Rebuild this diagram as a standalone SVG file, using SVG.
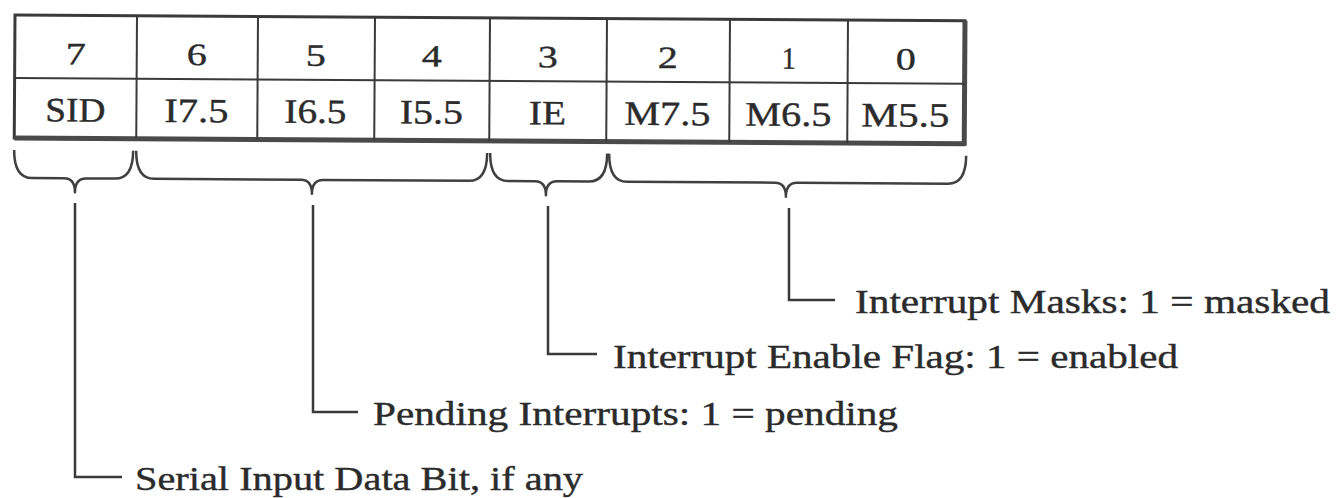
<svg xmlns="http://www.w3.org/2000/svg" width="1340" height="498" viewBox="0 0 1340 498">
<style>
.cellline{stroke:#3a3a3a;stroke-width:2;fill:none}
.outer{stroke:#3a3a3a;stroke-width:3;fill:none}
.heavy{stroke:#4a4a4a;stroke-width:5;fill:none}
.brace{stroke:#404040;stroke-width:2.5;fill:none;stroke-linejoin:round}
.lead{stroke:#3a3a3a;stroke-width:2.5;fill:none}
text{fill:#2b2b2b;stroke:#2b2b2b;stroke-width:0.4}
.num{font-family:"Liberation Serif","Times New Roman",serif;font-size:31px;text-anchor:middle}
.cell{font-family:"Liberation Serif","Times New Roman",serif;font-size:34px;text-anchor:middle}
.lbl{font-family:"Liberation Serif","Times New Roman",serif;font-size:34px}
</style>
<rect width="1340" height="498" fill="#ffffff"/>
<g id="register" transform="rotate(0.35 15 15)">
  <rect class="outer" x="15" y="15" width="950" height="123"/>
  <line class="heavy" x1="15" y1="138" x2="966" y2="138"/>
  <line class="heavy" x1="965" y1="15" x2="965" y2="140"/>
  <line class="cellline" x1="15" y1="78" x2="965" y2="78"/>
  <line class="cellline" x1="137" y1="15" x2="137" y2="138"/>
  <line class="cellline" x1="258" y1="15" x2="258" y2="138"/>
  <line class="cellline" x1="375" y1="15" x2="375" y2="138"/>
  <line class="cellline" x1="490" y1="15" x2="490" y2="138"/>
  <line class="cellline" x1="607" y1="15" x2="607" y2="138"/>
  <line class="cellline" x1="730" y1="15" x2="730" y2="138"/>
  <line class="cellline" x1="848" y1="15" x2="848" y2="138"/>
  <g id="bit-numbers">
    <text class="num" x="76" y="64" textLength="20" lengthAdjust="spacingAndGlyphs">7</text>
    <text class="num" x="197" y="64" textLength="20" lengthAdjust="spacingAndGlyphs">6</text>
    <text class="num" x="316" y="64" textLength="20" lengthAdjust="spacingAndGlyphs">5</text>
    <text class="num" x="432" y="64" textLength="20" lengthAdjust="spacingAndGlyphs">4</text>
    <text class="num" x="548" y="64" textLength="20" lengthAdjust="spacingAndGlyphs">3</text>
    <text class="num" x="668" y="64" textLength="20" lengthAdjust="spacingAndGlyphs">2</text>
    <text class="num" x="789" y="64" textLength="14" lengthAdjust="spacingAndGlyphs">1</text>
    <text class="num" x="906" y="64" textLength="20" lengthAdjust="spacingAndGlyphs">0</text>
  </g>
  <g id="bit-names">
    <text class="cell" x="76" y="121" textLength="60" lengthAdjust="spacingAndGlyphs">SID</text>
    <text class="cell" x="197" y="121" textLength="64" lengthAdjust="spacingAndGlyphs">I7.5</text>
    <text class="cell" x="316" y="121" textLength="62" lengthAdjust="spacingAndGlyphs">I6.5</text>
    <text class="cell" x="432" y="121" textLength="63" lengthAdjust="spacingAndGlyphs">I5.5</text>
    <text class="cell" x="548" y="121" textLength="37" lengthAdjust="spacingAndGlyphs">IE</text>
    <text class="cell" x="668" y="121" textLength="86" lengthAdjust="spacingAndGlyphs">M7.5</text>
    <text class="cell" x="789" y="121" textLength="86" lengthAdjust="spacingAndGlyphs">M6.5</text>
    <text class="cell" x="906" y="121" textLength="88" lengthAdjust="spacingAndGlyphs">M5.5</text>
  </g>
  <g id="braces">
    <path class="brace" d="M15 150 Q15 178 33 178 L65 178 Q76 178 76 192 Q76 178 87 178 L116 178 Q134 178 134 150"/>
    <path class="brace" d="M137 150 Q137 178 155 178 L302 178 Q313 178 313 192 Q313 178 324 178 L470 178 Q488 178 488 150"/>
    <path class="brace" d="M491 150 Q491 178 509 178 L536 178 Q547 178 547 192 Q547 178 558 178 L590 178 Q608 178 608 150"/>
    <path class="brace" d="M610 150 Q610 178 628 178 L776 178 Q787 178 787 192 Q787 178 798 178 L949 178 Q967 178 967 150"/>
  </g>
</g>
<g id="connectors">
  <path class="lead" d="M75 203 L75 477 L122 477"/>
  <path class="lead" d="M313 205 L313 412 L358 412"/>
  <path class="lead" d="M548 206 L548 354 L597 354"/>
  <path class="lead" d="M789 208 L789 300 L835 300"/>
</g>
<g id="label-masks"><text class="lbl" x="855" y="313" textLength="475" lengthAdjust="spacingAndGlyphs">Interrupt Masks: 1 = masked</text></g>
<g id="label-enable"><text class="lbl" x="613" y="368" textLength="565" lengthAdjust="spacingAndGlyphs">Interrupt Enable Flag: 1 = enabled</text></g>
<g id="label-pending"><text class="lbl" x="373" y="425" textLength="525" lengthAdjust="spacingAndGlyphs">Pending Interrupts: 1 = pending</text></g>
<g id="label-serial"><text class="lbl" x="135" y="490" textLength="448" lengthAdjust="spacingAndGlyphs">Serial Input Data Bit, if any</text></g>
</svg>
